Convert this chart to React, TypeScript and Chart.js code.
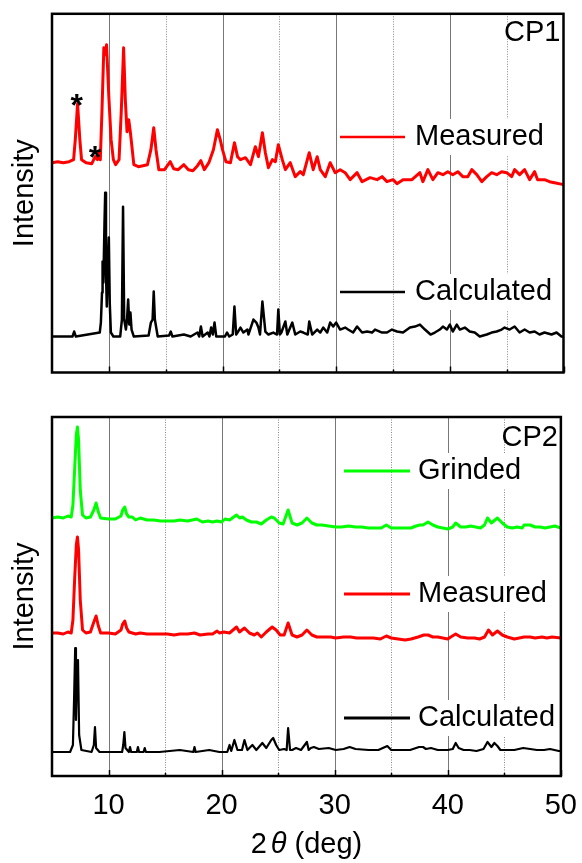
import React, { useEffect, useRef } from 'react';
import { Chart, registerables } from 'chart.js';

Chart.register(...registerables);

const FONT = '"Liberation Sans", Arial, Helvetica, sans-serif';

// ---- axis ----
const X_MIN = 5;
const X_MAX = 50;
const TICK_VALUES = [10, 20, 30, 40, 50];
const TICK_LABELS = ['10', '20', '30', '40', '50'];
const MAJOR_GRID = [10, 20, 30, 40];
const MINOR_GRID = [15, 25, 35, 45];
const X_TITLE_PREFIX = '2';
const X_TITLE_SYMBOL = 'θ';
const X_TITLE_SUFFIX = ' (deg)';
const Y_TITLE = 'Intensity';

// ---- CP1 ----
const CP1_MEAS_X = [5.0,5.5,6.0,6.5,6.9,7.05,7.25,7.45,7.6,8.0,8.5,8.8,9.0,9.1,9.25,9.4,9.56,9.7,9.8,10.0,10.2,10.4,10.6,10.9,11.1,11.3,11.45,11.6,11.75,11.9,12.2,12.6,13.0,13.4,13.7,13.95,14.15,14.4,14.9,15.4,15.7,16.1,16.6,17.0,17.4,17.8,18.1,18.4,18.8,19.2,19.55,19.8,20.0,20.3,20.7,21.05,21.32,21.58,22.02,22.46,22.89,23.16,23.51,23.77,24.04,24.39,24.65,24.91,25.26,25.53,25.96,26.4,26.84,27.11,27.63,27.98,28.33,28.6,29.04,29.47,29.91,30.35,30.79,31.23,31.84,32.28,32.98,33.6,34.04,34.47,35.0,35.35,35.88,36.67,37.37,37.63,38.07,38.51,38.95,39.39,39.82,40.26,40.7,41.14,41.58,41.93,42.37,42.81,43.25,43.68,44.12,44.56,45.0,45.44,45.7,46.14,46.58,47.02,47.46,47.72,48.33,48.77,49.21,50.0];
const CP1_MEAS_Y = [210,211,210,211,213,233,269,233,213,210,209,216,213,220,213,263,325,318,328,276,233,213,208,213,263,325,273,241,253,240,208,206,207,208,223,245,223,203,203,211,204,203,208,203,202,207,212,203,210,223,243,233,223,211,210,230,216,213,215,208,226,216,240,220,205,213,211,228,213,203,210,196,201,198,220,203,216,203,196,210,200,203,200,193,200,191,195,193,196,191,193,189,193,193,200,191,203,193,200,198,201,198,201,196,196,203,198,191,196,200,198,201,200,196,203,198,203,193,201,193,193,191,190,188];

const CP1_CALC_X = [5.0,6.8,6.95,7.1,9.2,9.3,9.4,9.45,9.52,9.62,9.68,9.75,9.82,9.92,10.0,10.08,10.18,10.4,11.0,11.15,11.25,11.35,11.5,11.6,11.7,11.8,11.9,12.0,12.2,13.5,13.7,13.85,13.95,14.05,14.3,15.3,15.45,15.6,16.6,17.2,17.8,17.95,18.1,18.25,18.7,18.85,19.0,19.15,19.3,19.45,20.2,20.4,20.6,20.9,21.05,21.2,21.32,21.58,21.84,22.19,22.28,22.72,22.98,23.16,23.3,23.51,23.77,24.04,24.47,24.8,24.91,25.05,25.18,25.53,25.7,26.14,26.4,26.84,27.11,27.5,27.63,27.89,28.33,28.6,28.86,29.21,29.47,29.74,30.0,30.35,30.79,31.05,31.49,31.84,32.28,32.72,33.16,33.42,34.04,34.47,34.91,35.35,35.88,36.49,36.93,37.37,37.81,38.3,38.68,39.12,39.39,39.74,40.0,40.26,40.61,40.88,41.32,41.75,42.19,42.63,43.25,43.68,44.12,44.56,44.82,45.26,45.7,46.14,46.58,47.02,47.46,47.89,48.33,48.95,49.39,49.82,50.0];
const CP1_CALC_Y = [36,36,41,36,40,50,80,111,90,150,180,100,66,110,135,70,40,36,36,53,166,53,43,53,73,48,60,43,36,37,50,53,81,53,36,37,41,36,38,36,40,36,46,36,40,36,45,38,50,36,36,40,36,38,66,38,40,45,40,43,38,53,50,45,38,71,41,38,40,38,63,38,40,51,38,50,38,41,40,38,51,38,43,40,45,40,50,46,50,43,45,43,40,46,40,41,40,43,40,40,43,41,40,45,46,48,43,38,40,43,46,43,48,41,48,43,45,41,40,36,38,40,41,43,45,43,46,40,43,40,41,38,40,38,40,36,36];

// ---- CP2 ----
const CP2_GRIND_X = [5.0,5.5,6.0,6.4,6.7,6.85,7.0,7.15,7.25,7.35,7.5,7.7,8.0,8.4,8.7,8.9,9.1,9.3,10.0,10.6,11.1,11.25,11.43,11.6,11.8,12.1,12.4,12.8,13.4,14.0,14.6,15.2,15.8,16.3,17.0,17.8,18.3,18.8,19.2,19.6,20.0,20.3,20.7,21.32,21.6,21.84,22.19,22.63,23.07,23.51,23.95,24.39,24.65,25.09,25.44,25.88,26.23,26.67,27.11,27.54,27.98,28.42,28.86,29.47,30.09,30.61,31.23,31.84,32.37,32.98,33.6,34.12,34.56,35.0,35.61,36.23,36.75,37.19,37.54,37.81,38.25,38.68,39.12,39.56,40.0,40.44,40.7,41.14,41.58,42.02,42.46,42.89,43.25,43.51,43.86,44.39,44.82,45.26,45.7,46.14,46.58,46.75,47.28,47.72,48.16,48.6,49.04,49.47,50.0];
const CP2_GRIND_Y = [258,259,258,260,259,271,306,341,349,336,286,261,258,259,266,273,264,258,257,257,260,266,269,262,259,259,256,258,256,256,255,255,255,256,255,257,254,255,254,255,254,257,256,261,258,259,256,254,254,252,256,259,258,253,252,266,253,251,253,258,253,251,251,250,249,249,250,249,249,248,248,248,251,248,248,248,248,250,251,251,254,251,249,248,247,249,253,249,249,250,249,248,251,258,253,258,253,249,248,249,248,251,251,249,249,248,249,250,248];

const CP2_MEAS_X = [5.0,5.5,6.0,6.4,6.7,6.85,7.0,7.15,7.25,7.35,7.5,7.7,8.0,8.4,8.7,8.9,9.1,9.3,10.0,10.6,11.1,11.25,11.43,11.6,11.8,12.1,12.4,12.8,13.4,14.0,14.6,15.2,15.8,16.3,17.0,17.6,18.1,18.8,19.2,19.6,19.8,20.2,20.7,21.32,21.58,22.02,22.46,22.89,23.16,23.51,23.95,24.47,24.82,25.18,25.53,25.88,26.23,26.67,27.11,27.54,27.98,28.42,29.04,29.65,30.09,30.79,31.4,31.93,32.72,33.42,34.04,34.56,35.0,35.61,36.23,36.75,37.37,37.89,38.25,38.68,39.12,39.56,40.0,40.26,40.7,41.14,41.75,42.37,42.81,43.25,43.6,43.95,44.39,44.82,45.26,45.88,46.32,46.75,47.28,47.72,48.33,48.77,49.21,50.0];
const CP2_MEAS_Y = [143,143,142,144,143,156,196,231,239,226,176,146,143,144,154,160,150,143,143,142,146,152,155,148,144,143,142,143,142,142,142,142,141,142,142,143,141,142,142,145,143,144,143,149,144,148,143,141,143,139,144,149,146,141,141,153,141,139,141,146,141,139,139,139,138,139,139,138,138,138,137,140,138,137,136,137,139,141,141,139,139,138,137,139,142,139,138,138,137,139,146,141,145,141,139,137,138,139,139,138,139,138,139,138];

const CP2_CALC_X = [5.0,6.6,6.85,6.95,7.05,7.12,7.2,7.3,7.4,7.6,8.5,8.7,8.8,8.9,9.2,11.2,11.3,11.4,11.5,11.8,11.9,12.0,12.5,12.6,12.7,13.1,13.2,13.3,14.5,16.3,17.5,17.6,17.7,18.9,19.8,20.5,20.7,20.85,21.13,21.4,21.8,22.02,22.28,22.72,23.07,23.6,23.95,24.39,24.56,24.82,25.09,25.53,25.75,25.88,26.05,26.23,26.58,27.02,27.54,27.7,27.89,28.16,28.6,29.47,30.09,30.79,31.32,31.84,33.0,33.86,34.65,35.0,35.88,36.67,37.46,37.81,38.07,38.51,39.12,40.0,40.44,40.7,40.96,41.4,41.93,42.54,43.16,43.51,43.86,44.12,44.39,44.65,45.26,45.88,46.67,47.28,47.89,48.51,49.04,49.82,50.0];
const CP2_CALC_Y = [24,24,31,76,128,56,96,116,41,26,24,31,49,28,24,24,31,44,28,24,29,24,24,29,24,24,28,24,24,26,24,29,24,26,24,24,31,25,36,26,26,36,26,31,26,33,28,36,38,31,26,27,26,48,26,26,28,26,34,26,28,29,27,28,26,27,29,27,26,26,30,26,26,26,29,29,27,28,26,26,27,33,28,26,26,25,27,34,29,33,30,26,26,26,28,27,26,26,27,25,25];

// ---- annotations ----
const CP1_STAR_X = [7.17, 8.78];
const CP1_STAR_Y = [276, 224];

const RED = '#ff0000';
const GREEN = '#00ff00';
const BLACK = '#000000';

function series(xs: number[], ys: number[], color: string, width: number) {
  const n = Math.min(xs.length, ys.length);
  const data = [] as { x: number; y: number }[];
  for (let i = 0; i < n; i++) data.push({ x: xs[i], y: ys[i] });
  return {
    data,
    borderColor: color,
    backgroundColor: color,
    borderWidth: width,
    pointRadius: 0,
    tension: 0,
    fill: false,
    borderJoinStyle: 'round',
    borderCapStyle: 'round',
  };
}

type LegendItem = { label: string; color: string; y: number };
type DecorCfg = {
  legend: LegendItem[];
  lineX: [number, number];
  textX: number;
  legendLineWidth: number;
  panelLabel: string;
  panelLabelY: number;
  stars?: { x: number[]; y: number[] };
  xTitleY?: number;
};

function makeDecor(cfg: DecorCfg) {
  return {
    id: 'decor',
    beforeDatasetsDraw(chart: any) {
      const { ctx, chartArea: a, scales } = chart;
      const x = scales.x;
      ctx.save();
      ctx.lineWidth = 1;
      ctx.strokeStyle = '#777777';
      for (const v of MAJOR_GRID) {
        const px = Math.round(x.getPixelForValue(v)) + 0.5;
        ctx.beginPath();
        ctx.moveTo(px, a.top);
        ctx.lineTo(px, a.bottom);
        ctx.stroke();
      }
      ctx.strokeStyle = '#888888';
      ctx.setLineDash([1, 1.5]);
      for (const v of MINOR_GRID) {
        const px = Math.round(x.getPixelForValue(v)) + 0.5;
        ctx.beginPath();
        ctx.moveTo(px, a.top);
        ctx.lineTo(px, a.bottom);
        ctx.stroke();
      }
      ctx.setLineDash([]);
      // white boxes behind legend text
      ctx.font = `29px ${FONT}`;
      ctx.fillStyle = '#ffffff';
      for (const it of cfg.legend) {
        const w = ctx.measureText(it.label).width;
        ctx.fillRect(cfg.textX - 3, it.y - 18, w + 6, 36);
      }
      ctx.restore();
    },
    afterDatasetsDraw(chart: any) {
      const { ctx, chartArea: a, scales } = chart;
      const x = scales.x;
      const y = scales.y;
      ctx.save();
      // legend
      ctx.font = `29px ${FONT}`;
      ctx.textBaseline = 'middle';
      ctx.textAlign = 'left';
      for (const it of cfg.legend) {
        ctx.strokeStyle = it.color;
        ctx.lineWidth = cfg.legendLineWidth;
        ctx.beginPath();
        ctx.moveTo(cfg.lineX[0], it.y);
        ctx.lineTo(cfg.lineX[1], it.y);
        ctx.stroke();
        ctx.fillStyle = '#000';
        ctx.fillText(it.label, cfg.textX, it.y);
      }
      // panel label
      ctx.textAlign = 'right';
      ctx.fillText(cfg.panelLabel, a.right - 3, cfg.panelLabelY);
      // asterisks
      if (cfg.stars) {
        ctx.font = `bold 32px ${FONT}`;
        ctx.textAlign = 'center';
        ctx.textBaseline = 'alphabetic';
        for (let i = 0; i < cfg.stars.x.length; i++) {
          const px = x.getPixelForValue(cfg.stars.x[i]);
          const py = y.getPixelForValue(cfg.stars.y[i]);
          ctx.fillText('*', px, py + 19);
        }
      }
      // frame
      ctx.strokeStyle = '#000';
      ctx.lineWidth = 2.5;
      ctx.strokeRect(a.left, a.top, a.right - a.left, a.bottom - a.top);
      // inward ticks
      ctx.lineWidth = 1.5;
      for (const v of TICK_VALUES) {
        const px = Math.round(x.getPixelForValue(v)) + 0.5;
        ctx.beginPath();
        ctx.moveTo(px, a.bottom);
        ctx.lineTo(px, a.bottom - 6);
        ctx.stroke();
      }
      for (const v of MINOR_GRID) {
        const px = Math.round(x.getPixelForValue(v)) + 0.5;
        ctx.beginPath();
        ctx.moveTo(px, a.bottom);
        ctx.lineTo(px, a.bottom - 3);
        ctx.stroke();
      }
      // y title
      ctx.fillStyle = '#000';
      ctx.font = `29px ${FONT}`;
      ctx.textAlign = 'center';
      ctx.textBaseline = 'middle';
      ctx.save();
      ctx.translate(25, (a.top + a.bottom) / 2);
      ctx.rotate(-Math.PI / 2);
      ctx.fillText(Y_TITLE, 0, 0);
      ctx.restore();
      // x title
      if (cfg.xTitleY !== undefined) {
        const normal = `29px ${FONT}`;
        const italic = `italic 29px ${FONT}`;
        ctx.textAlign = 'left';
        ctx.font = normal;
        const w1 = ctx.measureText(X_TITLE_PREFIX).width;
        const w3 = ctx.measureText(X_TITLE_SUFFIX).width;
        ctx.font = italic;
        const w2 = ctx.measureText(X_TITLE_SYMBOL).width;
        const gap = 4;
        const total = w1 + gap + w2 + w3;
        let cx = (a.left + a.right) / 2 - total / 2;
        ctx.font = normal;
        ctx.fillText(X_TITLE_PREFIX, cx, cfg.xTitleY);
        cx += w1 + gap;
        ctx.font = italic;
        ctx.fillText(X_TITLE_SYMBOL, cx, cfg.xTitleY);
        cx += w2;
        ctx.font = normal;
        ctx.fillText(X_TITLE_SUFFIX, cx, cfg.xTitleY);
      }
      ctx.restore();
    },
  };
}

export default function App() {
  const topRef = useRef<HTMLCanvasElement>(null);
  const botRef = useRef<HTMLCanvasElement>(null);

  useEffect(() => {
    const top = new Chart(topRef.current as HTMLCanvasElement, {
      type: 'line',
      data: {
        datasets: [
          series(CP1_MEAS_X, CP1_MEAS_Y, RED, 3),
          series(CP1_CALC_X, CP1_CALC_Y, BLACK, 2.5),
        ] as any,
      },
      options: {
        responsive: false,
        animation: false,
        layout: { padding: { left: 52, right: 18.5, top: 13.8, bottom: 27.5 } },
        plugins: { legend: { display: false }, tooltip: { enabled: false } },
        scales: {
          x: { type: 'linear', min: X_MIN, max: X_MAX, display: false },
          y: { type: 'linear', min: 0, max: 359, display: false },
        },
      } as any,
      plugins: [
        makeDecor({
          legend: [
            { label: 'Measured', color: RED, y: 137 },
            { label: 'Calculated', color: BLACK, y: 292 },
          ],
          lineX: [340, 405],
          textX: 415,
          legendLineWidth: 2.5,
          panelLabel: 'CP1',
          panelLabelY: 33,
          stars: { x: CP1_STAR_X, y: CP1_STAR_Y },
        }),
      ],
    });

    const bot = new Chart(botRef.current as HTMLCanvasElement, {
      type: 'line',
      data: {
        datasets: [
          series(CP2_GRIND_X, CP2_GRIND_Y, GREEN, 3),
          series(CP2_MEAS_X, CP2_MEAS_Y, RED, 3),
          series(CP2_CALC_X, CP2_CALC_Y, BLACK, 2.2),
        ] as any,
      },
      options: {
        responsive: false,
        animation: false,
        layout: { padding: { left: 52, right: 18.5, top: 17, bottom: 0 } },
        plugins: { legend: { display: false }, tooltip: { enabled: false } },
        scales: {
          x: {
            type: 'linear',
            min: X_MIN,
            max: X_MAX,
            position: 'bottom',
            grid: { display: false },
            border: { display: false },
            ticks: {
              stepSize: 5,
              autoSkip: false,
              maxRotation: 0,
              minRotation: 0,
              padding: 5,
              color: '#000',
              font: { family: FONT, size: 29 },
              callback: (v: any) => {
                const i = TICK_VALUES.indexOf(Number(v));
                return i >= 0 ? TICK_LABELS[i] : '';
              },
            },
            afterFit: (s: any) => {
              s.height = 87;
            },
          },
          y: { type: 'linear', min: 0, max: 359, display: false },
        },
      } as any,
      plugins: [
        makeDecor({
          legend: [
            { label: 'Grinded', color: GREEN, y: 71 },
            { label: 'Measured', color: RED, y: 194 },
            { label: 'Calculated', color: BLACK, y: 318 },
          ],
          lineX: [344, 410],
          textX: 418,
          legendLineWidth: 3,
          panelLabel: 'CP2',
          panelLabelY: 38,
          xTitleY: 445,
        }),
      ],
    });

    return () => {
      top.destroy();
      bot.destroy();
    };
  }, []);

  return (
    <div style={{ position: 'absolute', left: 0, top: 0, width: 582, height: 863, background: '#fff' }}>
      <canvas
        ref={topRef}
        width={582}
        height={400}
        style={{ position: 'absolute', left: 0, top: 0, width: 582, height: 400 }}
      />
      <canvas
        ref={botRef}
        width={582}
        height={463}
        style={{ position: 'absolute', left: 0, top: 400, width: 582, height: 463 }}
      />
    </div>
  );
}
